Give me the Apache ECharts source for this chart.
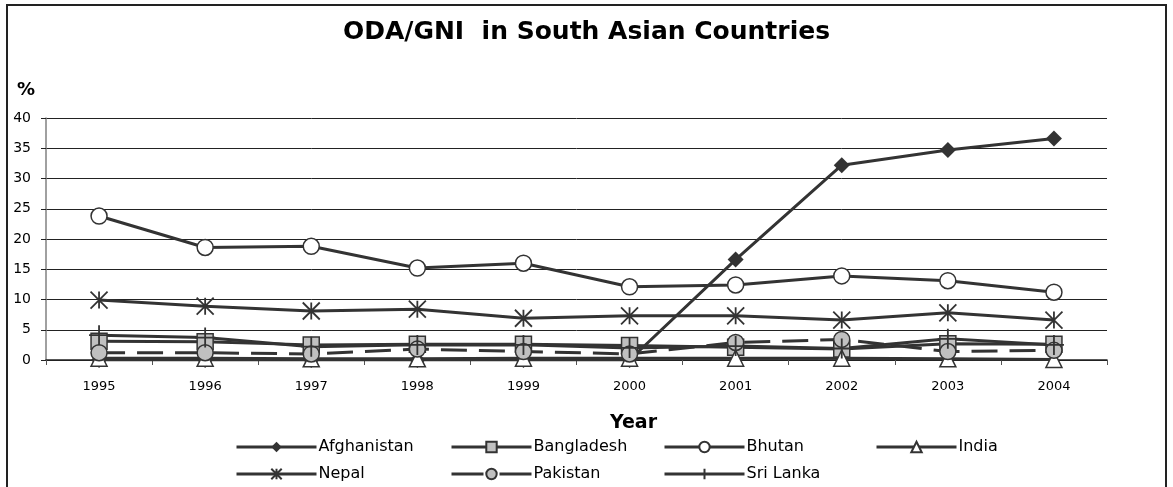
<!DOCTYPE html>
<html>
<head>
<meta charset="utf-8">
<title>ODA/GNI in South Asian Countries</title>
<script src="https://cdn.jsdelivr.net/npm/echarts@6/dist/echarts.min.js"></script>
<style>
  html, body { margin: 0; padding: 0; background: #fff; }
  #chart { width: 1173px; height: 487px; }
</style>
</head>
<body>
<div id="chart"></div>
<script>
// ODA as a share of GNI (%), 1995-2004
const years = ['1995', '1996', '1997', '1998', '1999', '2000', '2001', '2002', '2003', '2004'];
const yTicks = [0, 5, 10, 15, 20, 25, 30, 35, 40];

const afghanistan = [0, 0, 0, 0, 0, 0, 16.6, 32.2, 34.7, 36.6];
const bangladesh  = [3.1, 3.0, 2.5, 2.6, 2.6, 2.4, 2.1, 1.8, 2.7, 2.6];
const bhutan      = [23.8, 18.6, 18.8, 15.2, 16.0, 12.1, 12.4, 13.9, 13.1, 11.2];
const india       = [0.3, 0.3, 0.2, 0.2, 0.3, 0.3, 0.3, 0.3, 0.2, 0.1];
const nepal       = [9.9, 8.9, 8.1, 8.4, 6.9, 7.3, 7.3, 6.6, 7.8, 6.6];
const pakistan    = [1.2, 1.2, 1.0, 1.8, 1.4, 1.0, 2.9, 3.4, 1.4, 1.6];
const sriLanka    = [4.1, 3.7, 2.2, 2.5, 2.5, 2.0, 2.3, 1.9, 3.5, 2.5];

const INK = '#333333';
const FONT = '"DejaVu Sans", Arial, sans-serif';

const STAR = 'path://M0,0L20,20M0,20L20,0M10,0L10,20';
const PLUS = 'path://M10,0L10,20M0,10L20,10';

const seriesDefs = [
  { name: 'Afghanistan', data: afghanistan, symbol: 'diamond',  size: 16, fill: INK,       border: 0 },
  { name: 'Bangladesh',  data: bangladesh,  symbol: 'rect',     size: 16, fill: '#c0c0c0', border: 1.5 },
  { name: 'Bhutan',      data: bhutan,      symbol: 'circle',   size: 16, fill: '#ffffff', border: 1.5 },
  { name: 'India',       data: india,       symbol: 'triangle', size: 16, fill: '#ffffff', border: 1.5 },
  { name: 'Nepal',       data: nepal,       symbol: STAR,       size: 17, fill: 'transparent', border: 1.8 },
  { name: 'Pakistan',    data: pakistan,    symbol: 'circle',   size: 16, fill: '#c0c0c0', border: 1.5, dash: [26, 12] },
  { name: 'Sri Lanka',   data: sriLanka,    symbol: PLUS,       size: 20, fill: 'transparent', border: 1.8 }
];

// legend laid out in two rows of fixed columns
const legendCols = [235, 450, 663, 875];
const legendRows = [439, 466];

const legends = seriesDefs.map((s, i) => ({
  data: [s.name],
  left: legendCols[i % 4],
  top: legendRows[Math.floor(i / 4)],
  padding: 0,
  itemWidth: 80,
  itemHeight: 13,
  selectedMode: false,
  lineStyle: { color: INK, width: 3, type: s.dash ? [32, 16] : 'solid' },
  textStyle: { fontFamily: FONT, fontSize: 16, lineHeight: 16, color: '#000', padding: [0, 0, 0, -3] }
}));

const series = seriesDefs.map(s => ({
  name: s.name,
  type: 'line',
  data: s.data,
  symbol: s.symbol,
  symbolSize: s.size,
  symbolKeepAspect: true,
  showAllSymbol: true,
  animation: false,
  lineStyle: { color: INK, width: 3, type: s.dash || 'solid' },
  itemStyle: { color: s.fill, borderColor: INK, borderWidth: s.border, opacity: 1 },
  emphasis: { disabled: true }
}));

const chart = echarts.init(document.getElementById('chart'), null, { renderer: 'canvas' });
chart.setOption({
  backgroundColor: '#ffffff',
  animation: false,
  title: {
    text: 'ODA/GNI  in South Asian Countries',
    left: 'center',
    top: 15,
    textStyle: { fontFamily: FONT, fontSize: 25, fontWeight: 'bold', color: '#000' }
  },
  legend: legends,
  grid: { left: 46, right: 66, top: 118, bottom: 127, containLabel: false },
  xAxis: {
    type: 'category',
    data: years,
    boundaryGap: true,
    name: 'Year',
    nameLocation: 'middle',
    nameGap: 54,
    nameTextStyle: { fontFamily: FONT, fontSize: 19, fontWeight: 'bold', color: '#000', padding: [0, 0, 0, 114] },
    axisLine: { lineStyle: { color: '#222', width: 1.5 } },
    axisTick: { show: true, length: 5, alignWithLabel: false, lineStyle: { color: '#555' } },
    axisLabel: { margin: 20, fontFamily: FONT, fontSize: 13, color: '#000' },
    splitLine: { show: false }
  },
  yAxis: {
    type: 'value',
    min: yTicks[0],
    max: yTicks[yTicks.length - 1],
    interval: 5,
    name: '%',
    nameLocation: 'end',
    nameGap: 19,
    nameTextStyle: { fontFamily: FONT, fontSize: 18, fontWeight: 'bold', color: '#000', align: 'right', padding: [0, 11, 0, 0] },
    axisLine: { show: true, lineStyle: { color: '#808080', width: 1.5 } },
    axisTick: { show: true, length: 5, inside: false, lineStyle: { color: '#222' } },
    axisLabel: { margin: 15, fontFamily: FONT, fontSize: 14, color: '#000' },
    splitLine: { show: true, lineStyle: { color: '#222', width: 1 } }
  },
  graphic: [{
    type: 'rect',
    silent: true,
    z: 100,
    shape: { x: 7, y: 5, width: 1159, height: 520 },
    style: { fill: 'none', stroke: '#222', lineWidth: 2 }
  }],
  series: series
});
</script>
</body>
</html>
